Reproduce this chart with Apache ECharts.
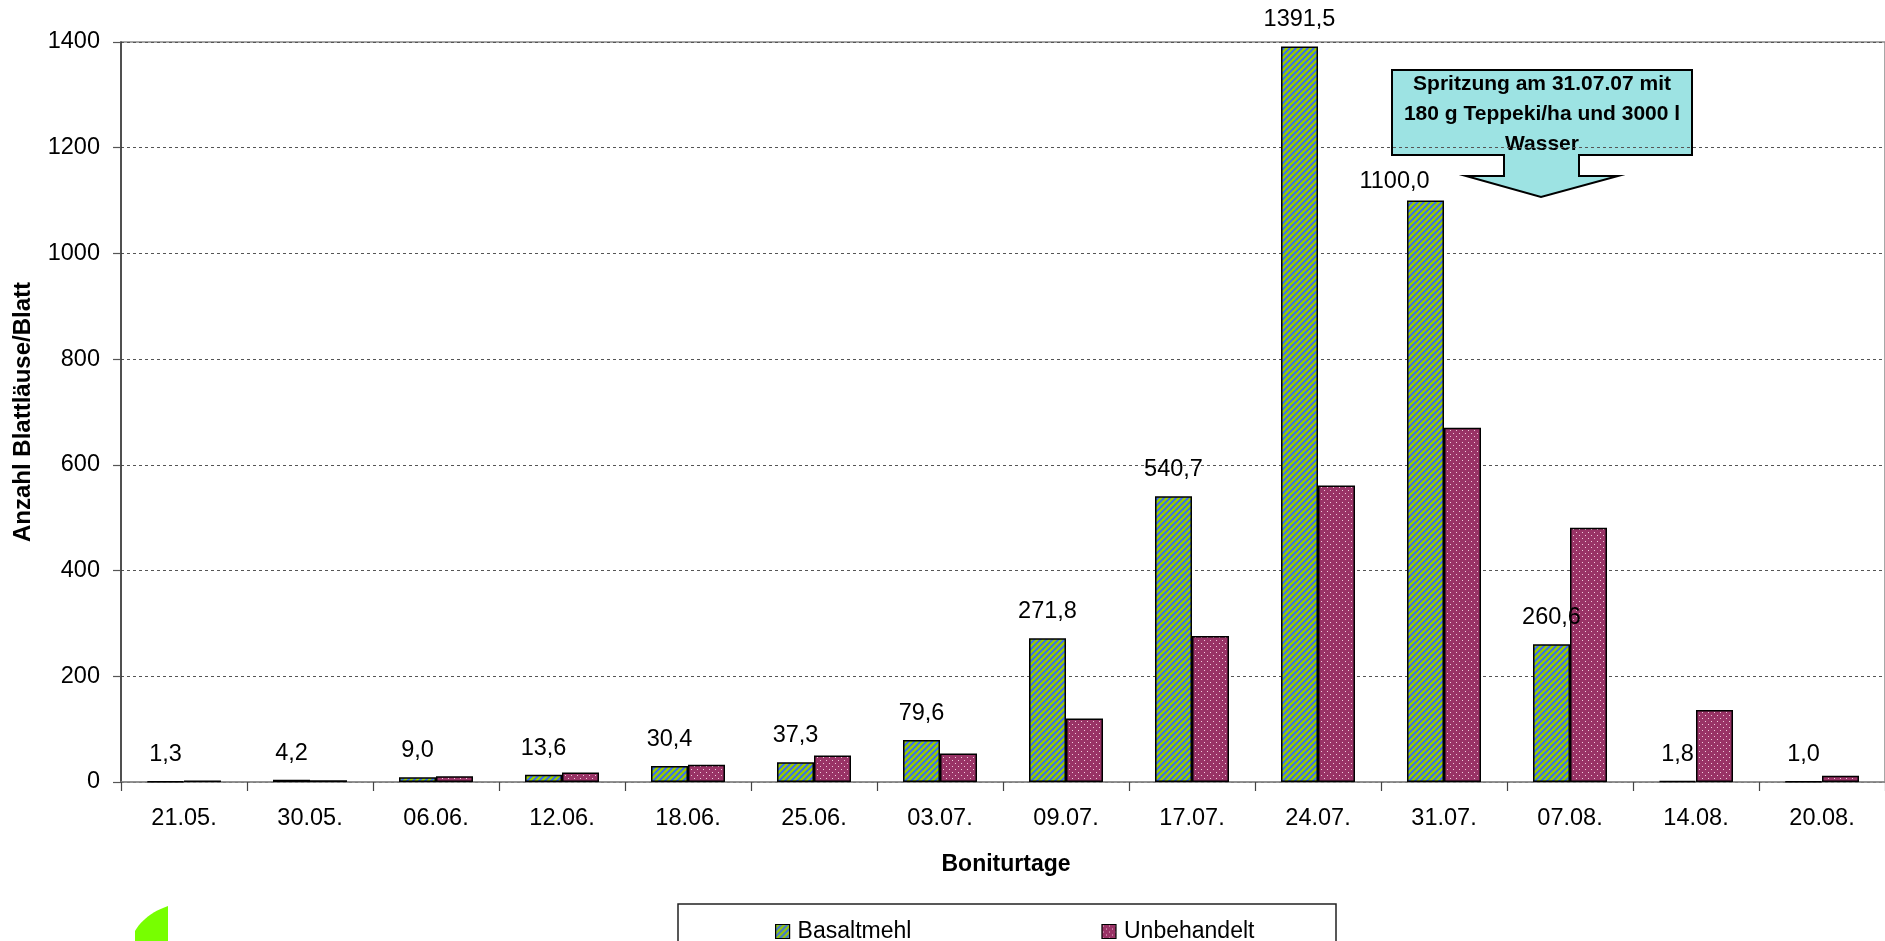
<!DOCTYPE html>
<html>
<head>
<meta charset="utf-8">
<script src="https://cdn.jsdelivr.net/npm/echarts@6/dist/echarts.min.js"></script>
<style>
html,body{margin:0;padding:0;background:#fff;}
#chart{width:1885px;height:941px;}
</style>
</head>
<body>
<div id="chart"></div>
<script>
// ---- data ----
var categories = ['21.05.','30.05.','06.06.','12.06.','18.06.','25.06.','03.07.','09.07.','17.07.','24.07.','31.07.','07.08.','14.08.','20.08.'];
var basaltmehl = [1.3, 4.2, 9.0, 13.6, 30.4, 37.3, 79.6, 271.8, 540.7, 1391.5, 1100.0, 260.6, 1.8, 1.0];
var unbehandelt = [3, 3.5, 11, 18, 32.5, 50, 54, 120, 276, 561, 670, 481, 136, 12];
var yTicks = [0, 200, 400, 600, 800, 1000, 1200, 1400];
var seriesNames = ['Basaltmehl', 'Unbehandelt'];
var xTitle = 'Boniturtage';
var yTitle = 'Anzahl Blattläuse/Blatt';
var noteText = 'Spritzung am 31.07.07 mit\n180 g Teppeki/ha und 3000 l\nWasser';
var movedLabelIndex = 10; // label shifted left beside the arrow in the original

// ---- patterns ----
function stripePattern() {
  var c = document.createElement('canvas');
  var s = 6;
  c.width = s; c.height = s;
  var g = c.getContext('2d');
  g.fillStyle = '#99cc00';
  g.fillRect(0, 0, s, s);
  g.strokeStyle = '#3366ff';
  g.lineWidth = 1.8;
  g.beginPath();
  g.moveTo(-1, 1); g.lineTo(1, -1);
  g.moveTo(0, s); g.lineTo(s, 0);
  g.moveTo(s - 1, s + 1); g.lineTo(s + 1, s - 1);
  g.stroke();
  return c;
}
function dotPattern() {
  var c = document.createElement('canvas');
  c.width = 6; c.height = 6;
  var g = c.getContext('2d');
  g.fillStyle = '#993366';
  g.fillRect(0, 0, 6, 6);
  g.fillStyle = 'rgba(255,230,240,0.85)';
  g.fillRect(1, 1, 1, 1);
  g.fillRect(4, 4, 1, 1);
  return c;
}
var FONT = 'Liberation Sans, Arial, sans-serif';

// leaf outline (decoration in lower-left corner)
var leafPts = [];
for (var i = 0; i <= 12; i++) {
  var t = i / 12;
  var px = (1 - t) * (1 - t) * 168 + 2 * (1 - t) * t * 145 + t * t * 135;
  var py = (1 - t) * (1 - t) * 906 + 2 * (1 - t) * t * 914 + t * t * 931;
  leafPts.push([px, py]);
}
leafPts.push([135, 945], [168, 945]);

var basaltData = basaltmehl.map(function (v, idx) {
  if (idx === movedLabelIndex) {
    return { value: v, label: { offset: [-31, 7] } };
  }
  return v;
});

var chart = echarts.init(document.getElementById('chart'));
var option = {
  backgroundColor: '#ffffff',
  animation: false,
  grid: {
    left: 121, top: 42, width: 1775, height: 740,
    show: true, borderColor: '#8a8a8a', borderWidth: 1.5
  },
  legend: {
    data: seriesNames,
    left: 770, top: 915,
    itemWidth: 14, itemHeight: 14, itemGap: 190,
    icon: 'rect',
    itemStyle: { borderColor: '#000', borderWidth: 1.2 },
    textStyle: { fontFamily: FONT, fontSize: 23, lineHeight: 23, color: '#000', padding: [0, 0, 0, 3] }
  },
  xAxis: {
    type: 'category',
    data: categories,
    axisLine: { lineStyle: { color: '#8a8a8a', width: 1.5 } },
    axisTick: { show: true, length: 9, lineStyle: { color: '#444', width: 1.2 } },
    axisLabel: { fontFamily: FONT, fontSize: 23.5, color: '#000', margin: 25, lineHeight: 23 }
  },
  yAxis: {
    type: 'value',
    min: yTicks[0], max: yTicks[yTicks.length - 1], interval: 200,
    axisLine: { show: true, lineStyle: { color: '#333', width: 1.5 } },
    axisTick: { show: true, length: 8, lineStyle: { color: '#555', width: 1.2 } },
    axisLabel: { fontFamily: FONT, fontSize: 23.5, color: '#000', margin: 21, formatter: function (v) { return String(v); } },
    splitLine: { show: true, lineStyle: { color: '#555', type: [3, 3], width: 1 } }
  },
  series: [
    {
      name: seriesNames[0],
      type: 'bar',
      data: basaltData,
      barWidth: 37,
      barGap: '0%',
      itemStyle: { color: { image: stripePattern(), repeat: 'repeat' }, borderColor: '#000', borderWidth: 1.5 },
      label: {
        show: true, position: 'top', distance: 15,
        fontFamily: FONT, fontSize: 23.5, lineHeight: 23, color: '#000',
        formatter: function (p) { return Number(p.value).toFixed(1).replace('.', ','); }
      }
    },
    {
      name: seriesNames[1],
      type: 'bar',
      data: unbehandelt,
      barWidth: 37,
      barGap: '0%',
      itemStyle: { color: { image: dotPattern(), repeat: 'repeat' }, borderColor: '#000', borderWidth: 1.5 }
    }
  ],
  graphic: [
    {
      type: 'polygon', z: -1,
      shape: { points: [[1392,70],[1692,70],[1692,155],[1579,155],[1579,176],[1618,176],[1541,197],[1466,176],[1504,176],[1504,155],[1392,155]] },
      style: { fill: '#9de3e3', stroke: '#000', lineWidth: 2 }
    },
    {
      type: 'text', z: -1, x: 1542, y: 69,
      style: {
        text: noteText, align: 'center', verticalAlign: 'top',
        font: 'bold 21px ' + FONT, lineHeight: 30, fill: '#000'
      }
    },
    {
      type: 'text', x: 1006, y: 865,
      style: { text: xTitle, font: 'bold 23px ' + FONT, fill: '#000', align: 'center', verticalAlign: 'middle' }
    },
    {
      type: 'text', x: 23, y: 412, rotation: Math.PI / 2,
      style: { text: yTitle, font: 'bold 24px ' + FONT, fill: '#000', align: 'center', verticalAlign: 'middle' }
    },
    {
      type: 'rect',
      shape: { x: 678, y: 904, width: 658, height: 60 },
      style: { fill: 'none', stroke: '#222', lineWidth: 1.5 }
    },
    {
      type: 'polygon',
      shape: { points: leafPts },
      style: { fill: '#77ff00' }
    }
  ]
};
chart.setOption(option);
</script>
</body>
</html>
